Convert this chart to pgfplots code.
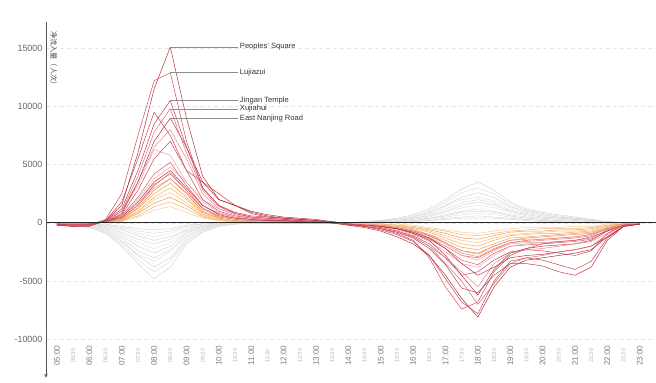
\documentclass[border=0pt]{standalone}
\usepackage{pgfplots}
\usepackage{pgfplotstable}
\pgfplotsset{compat=1.18}
\usetikzlibrary{arrows.meta}
\usepackage{fontspec}
\setmainfont{Liberation Sans}
\newfontfamily\cjk{Noto Sans CJK SC}

% Net passenger inflow per station, half-hourly from 05:00 to 23:00
% (one row per station; transposed below so that each station is a column)
\pgfplotstableread[header=has colnames]{
s 5 5.5 6 6.5 7 7.5 8 8.5 9 9.5 10 10.5 11 11.5 12 12.5 13 13.5 14 14.5 15 15.5 16 16.5 17 17.5 18 18.5 19 19.5 20 20.5 21 21.5 22 22.5 23
R1  -200 -300 -300 200 1500 6000 11500 15100 9000 4000 2000 1500  900 600 400 300 200 0 -200 -400 -700 -1200  -1800 -2800 -4500 -6500 -8100 -5500 -3800 -3200 -3000 -2800 -2600 -2300 -1200 -300 -100
R2  -200 -300 -200 300 2500 7500 12200 12900 7000 3000 1500 800  500 400 300 200 100 0 -200 -300 -500 -900  -1500 -3000 -5500 -7400 -6800 -4200 -2800 -2200 -1800 -1600 -1500 -1200 -700 -200 -100
R3  -100 -200 -200 200 1200 4500 8500 10500 6500 3000 1500 900  600 500 400 300 200 100 -100 -300 -500 -800  -1300 -2200 -3600 -5600 -6000 -4500 -3500 -3500 -3700 -4200 -4500 -3800 -1500 -300 -100
R4  -100 -200 -200 100 1000 4000 7800 9800 6000 2800 1400 800  500 400 300 200 100 0 -100 -200 -400 -700  -1200 -2000 -3500 -5000 -7000 -5200 -3500 -3000 -2800 -2500 -2300 -2000 -1000 -200 -100
R5  -100 -100 -100 100 800 3500 7000 9000 6500 3500 2000 1500  1000 700 500 400 300 100 -100 -200 -300 -500  -800 -1300 -2200 -3500 -4500 -3800 -3000 -2800 -2700 -2500 -2300 -2000 -1200 -300 -100
R6  -200 -200 -100 200 1000 3500 6500 8000 5500 2500 1200 700  400 300 300 200 100 0 -100 -300 -500 -800  -1200 -2000 -3000 -4200 -5500 -3500 -2600 -2300 -2200 -2000 -1800 -1600 -900 -200 -100
R7  -100 -200 -100 100 700 2800 5500 7000 4500 2000 1000 600  400 300 200 200 100 0 -100 -200 -400 -700  -1100 -1800 -3000 -4500 -4200 -3200 -2500 -2300 -2400 -2600 -2800 -2400 -900 -200 -100
R8  -100 -100 -100 200 1000 3200 6300 5800 3500 1800 900 500  300 300 200 200 100 0 -100 -200 -300 -600  -1000 -1600 -2500 -3500 -3800 -2800 -2000 -1800 -1700 -1600 -1500 -1300 -700 -200 -100
R9  -100 -200 -200 100 600 2200 4200 5200 3200 1500 800 500  300 200 200 100 100 0 -100 -200 -300 -500  -900 -1400 -2200 -3200 -3600 -2600 -2000 -1900 -1800 -1700 -1600 -1400 -600 -200 -100
R10 -100 -100 -100 100 500 2000 3800 4800 3500 2000 1200 800  500 300 200 200 100 0 -100 -200 -300 -500  -800 -1200 -2000 -2800 -3200 -2400 -1800 -1700 -1700 -1600 -1500 -1300 -600 -100 -100
R11 -100 -100 -100 100 500 1800 3500 4500 3000 1500 700 400  300 200 200 100 100 0 -100 -200 -300 -500  -900 -1500 -2800 -4500 -6200 -4000 -2600 -2200 -2000 -1900 -1800 -1500 -700 -200 -100
R12 -100 -100 -100 100 400 1600 3300 4200 2800 1300 600 400  200 200 100 100 100 0 -100 -200 -300 -400  -700 -1100 -1800 -2600 -2900 -2200 -1700 -1600 -1500 -1400 -1300 -1100 -500 -100 -100
R13 -100 -100 -100 100 400 1500 3000 3800 2600 1200 600 300  200 200 100 100 0 0 -100 -100 -200 -400  -600 -1000 -1700 -2400 -2700 -2000 -1500 -1400 -1400 -1300 -1200 -1000 -500 -100 -100
R14 -200 -300 -200 200 1800 5500 9500 7500 4500 3500 2500 1500  800 500 400 300 200 100 -100 -300 -600 -1000  -1600 -2800 -4800 -6800 -7800 -5000 -3300 -3000 -3200 -3600 -4000 -3300 -1300 -300 -100
}\redraw

\pgfplotstableread[header=has colnames]{
s 5 5.5 6 6.5 7 7.5 8 8.5 9 9.5 10 10.5 11 11.5 12 12.5 13 13.5 14 14.5 15 15.5 16 16.5 17 17.5 18 18.5 19 19.5 20 20.5 21 21.5 22 22.5 23
O1 -100 -100 -100 100 400 1500 3200 4300 2800 1200 500 300  200 100 100 100 0 0 -100 -200 -300 -500  -800 -1300 -2000 -2800 -3000 -2300 -1700 -1500 -1400 -1300 -1200 -1000 -500 -100 0
O2 -100 -100 -50 100 300 1300 2800 3800 2500 1000 400 200  100 100 100 0 0 0 -100 -100 -200 -400  -700 -1100 -1700 -2400 -2600 -2000 -1500 -1300 -1200 -1100 -1000 -900 -400 -100 0
O3 -100 -100 -50 50 300 1200 2500 3400 2200 900 400 200  100 100 100 0 0 0 -100 -100 -200 -300  -600 -1000 -1500 -2100 -2300 -1800 -1300 -1200 -1100 -1000 -900 -800 -400 -100 0
O4 -50 -100 -50 50 250 1000 2200 3000 2000 800 300 200  100 100 0 0 0 0 -50 -100 -200 -300  -500 -800 -1300 -1800 -2000 -1500 -1100 -1000 -900 -900 -800 -700 -300 -100 0
O5 -50 -50 -50 50 200 900 2000 2600 1700 700 300 100  100 100 0 0 0 0 -50 -100 -100 -300  -400 -700 -1100 -1500 -1700 -1300 -1000 -900 -800 -700 -700 -600 -300 -100 0
O6 -50 -50 -50 50 200 800 1700 2200 1500 600 200 100  100 0 0 0 0 0 -50 -100 -100 -200  -400 -600 -900 -1300 -1400 -1100 -800 -700 -700 -600 -600 -500 -200 -100 0
O7 -50 -50 0 50 150 600 1400 1800 1200 500 200 100  0 0 0 0 0 0 0 -50 -100 -200  -300 -500 -700 -1000 -1100 -900 -700 -600 -500 -500 -500 -400 -200 -100 0
O8 -50 -50 0 50 100 500 1100 1400 900 400 200 100  0 0 0 0 0 0 0 -50 -100 -100  -200 -400 -600 -800 -900 -700 -500 -400 -400 -400 -300 -300 -100 0 0
}\orangeraw

\pgfplotstableread[header=has colnames]{
s 5 5.5 6 6.5 7 7.5 8 8.5 9 9.5 10 10.5 11 11.5 12 12.5 13 13.5 14 14.5 15 15.5 16 16.5 17 17.5 18 18.5 19 19.5 20 20.5 21 21.5 22 22.5 23
G1 -100 -200 -400 -900 -2000 -3500 -4800 -3800 -1800 -800 -300 -100  0 0 0 0 0 0 0 100 200 400  700 1200 2000 2900 3500 2800 1800 1200 900 700 500 300 100 0 0
G2 -100 -200 -400 -800 -1800 -3200 -4200 -3300 -1600 -700 -300 -100  0 0 0 0 0 0 0 100 200 300  600 1000 1800 2600 3000 2500 1600 1100 800 600 400 300 100 0 0
G3 -100 -150 -300 -700 -1600 -2800 -3800 -3000 -1400 -600 -200 -100  0 0 0 0 0 0 0 100 200 300  500 900 1500 2200 2600 2200 1400 1000 700 500 400 200 100 0 0
G4 -100 -150 -300 -700 -1500 -2700 -3300 -2500 -1200 -500 -200 -100  0 0 0 0 0 0 0 100 100 300  500 800 1400 2000 2200 1900 1300 900 700 500 300 200 100 0 0
G5 -50 -100 -300 -600 -1300 -2400 -3000 -2300 -1100 -500 -200 0  0 0 0 0 0 0 0 50 100 200  400 700 1200 1700 2000 1700 1100 800 600 400 300 200 100 0 0
G6 -50 -100 -200 -500 -1100 -2000 -2600 -2000 -900 -400 -100 0  0 0 0 0 0 0 0 50 100 200  400 600 1000 1500 1800 1500 1000 700 500 400 300 200 100 0 0
G7 -50 -100 -200 -400 -900 -1700 -2200 -1700 -800 -300 -100 0  0 0 0 0 0 0 0 50 100 200  300 500 900 1300 1500 1300 900 600 400 300 200 100 0 0 0
G8 -50 -100 -200 -400 -800 -1400 -1800 -1400 -700 -300 -100 0  0 0 0 0 0 0 0 0 100 100  300 400 700 1000 1200 1000 700 500 400 300 200 100 0 0 0
G9 -50 -100 -100 -300 -600 -1100 -1500 -1200 -600 -200 -100 0  0 0 0 0 0 0 0 0 100 100  200 400 600 900 1000 900 600 400 300 200 100 100 0 0 0
G10 -50 -50 -100 -200 -500 -900 -1200 -900 -400 -200 -100 0  0 0 0 0 0 0 0 0 50 100  200 300 500 700 800 700 500 300 200 200 100 100 0 0 0
G11 -50 -50 -100 -200 -400 -700 -900 -700 -300 -100 0 0  0 0 0 0 0 0 0 0 50 100  100 200 400 500 600 500 400 300 200 100 100 0 0 0 0
G12 0 -50 -100 -100 -300 -500 -600 -500 -200 -100 0 0  0 0 0 0 0 0 0 0 0 50  100 200 300 400 400 400 300 200 100 100 0 0 0 0 0
}\greyraw

\pgfplotstabletranspose[colnames from=s, input colnames to=t]\reds{\redraw}
\pgfplotstabletranspose[colnames from=s, input colnames to=t]\oranges{\orangeraw}
\pgfplotstabletranspose[colnames from=s, input colnames to=t]\greys{\greyraw}

\definecolor{r1}{HTML}{A8323E}
\definecolor{r2}{HTML}{D9485A}
\definecolor{r3}{HTML}{C43C4C}
\definecolor{r4}{HTML}{E06A7A}
\definecolor{r5}{HTML}{B83040}
\definecolor{r6}{HTML}{E58894}
\definecolor{r7}{HTML}{CF4656}
\definecolor{r8}{HTML}{E9A0AA}
\definecolor{r9}{HTML}{D65C68}
\definecolor{r10}{HTML}{EBA6B0}
\definecolor{r11}{HTML}{C0303E}
\definecolor{r12}{HTML}{E07C88}
\definecolor{r13}{HTML}{E89098}
\definecolor{r14}{HTML}{D24050}
\definecolor{o1}{HTML}{E86A30}
\definecolor{o2}{HTML}{F08A3A}
\definecolor{o3}{HTML}{F5A04A}
\definecolor{o4}{HTML}{F0B060}
\definecolor{o5}{HTML}{F7C27A}
\definecolor{o6}{HTML}{EC9B50}
\definecolor{o7}{HTML}{F4B46A}
\definecolor{o8}{HTML}{FACC90}
\definecolor{g1}{HTML}{D4D4D4}
\definecolor{g2}{HTML}{DCDCDC}
\definecolor{g3}{HTML}{E4E4E4}
\definecolor{axisgrey}{HTML}{555555}

\begin{document}
\begin{tikzpicture}
\begin{axis}[
  scale only axis, width=610bp, height=356bp,
  xmin=4.66, xmax=23.49, ymin=-13300, ymax=17250,
  clip=false,
  axis x line*=bottom, axis y line*=left,
  x axis line style={draw=none}, y axis line style={draw=none},
  xtick={5,6,...,23},
  xticklabels={05:00,06:00,07:00,08:00,09:00,10:00,11:00,12:00,13:00,14:00,15:00,16:00,17:00,18:00,19:00,20:00,21:00,22:00,23:00},
  extra x ticks={5.5,6.5,...,22.5},
  extra x tick labels={05:30,06:30,07:30,08:30,09:30,10:30,11:30,12:30,13:30,14:30,15:30,16:30,17:30,18:30,19:30,20:30,21:30,22:30},
  extra x tick style={xticklabel style={font=\fontsize{5.5}{5.5}\selectfont, text=black!30}},
  xtick style={draw=none},
  xticklabel style={yshift=22bp, rotate=90, anchor=center, font=\fontsize{8.2}{8.2}\selectfont, text=black!50},
  ytick={-10000,-5000,0,5000,10000,15000},
  scaled y ticks=false,
  ytick style={draw=none},
  yticklabel style={font=\fontsize{9}{9}\selectfont, text=black!60},
  /pgf/number format/set thousands separator={},
  /pgf/number format/assume math mode=true,
  ymajorgrids, major grid style={dash pattern=on 4bp off 3bp, black!10, line width=0.6bp},
  every axis plot/.append style={line width=0.5bp, line join=round},
]
% residential stations (outflow in the morning, inflow in the evening)
\addplot[g1] table[x=t, y=G1]{\greys};
\addplot[g2] table[x=t, y=G2]{\greys};
\addplot[g1] table[x=t, y=G3]{\greys};
\addplot[g3] table[x=t, y=G4]{\greys};
\addplot[g2] table[x=t, y=G5]{\greys};
\addplot[g1] table[x=t, y=G6]{\greys};
\addplot[g3] table[x=t, y=G7]{\greys};
\addplot[g2] table[x=t, y=G8]{\greys};
\addplot[g1] table[x=t, y=G9]{\greys};
\addplot[g3] table[x=t, y=G10]{\greys};
\addplot[g2] table[x=t, y=G11]{\greys};
\addplot[g1] table[x=t, y=G12]{\greys};
% moderate employment stations
\addplot[o1] table[x=t, y=O1]{\oranges};
\addplot[o2] table[x=t, y=O2]{\oranges};
\addplot[o3] table[x=t, y=O3]{\oranges};
\addplot[o4] table[x=t, y=O4]{\oranges};
\addplot[o5] table[x=t, y=O5]{\oranges};
\addplot[o6] table[x=t, y=O6]{\oranges};
\addplot[o7] table[x=t, y=O7]{\oranges};
\addplot[o8] table[x=t, y=O8]{\oranges};
% major employment stations
\addplot[r13] table[x=t, y=R13]{\reds};
\addplot[r12] table[x=t, y=R12]{\reds};
\addplot[r10] table[x=t, y=R10]{\reds};
\addplot[r9]  table[x=t, y=R9]{\reds};
\addplot[r8]  table[x=t, y=R8]{\reds};
\addplot[r11] table[x=t, y=R11]{\reds};
\addplot[r7]  table[x=t, y=R7]{\reds};
\addplot[r6]  table[x=t, y=R6]{\reds};
\addplot[r14] table[x=t, y=R14]{\reds};
\addplot[r5]  table[x=t, y=R5]{\reds};
\addplot[r4]  table[x=t, y=R4]{\reds};
\addplot[r3]  table[x=t, y=R3]{\reds};
\addplot[r2]  table[x=t, y=R2]{\reds};
\addplot[r1]  table[x=t, y=R1]{\reds};

% zero line and vertical axis
\draw[black!85, line width=0.8bp] (axis cs:4.66,0) -- (axis cs:23.49,0);
\draw[axisgrey, line width=0.7bp, -{Stealth[length=4bp,width=3.5bp]}] (rel axis cs:0,1) -- (rel axis cs:0,0);
\node[rotate=-90, anchor=west, font=\cjk\fontsize{7.2}{7.2}\selectfont, text=black!70, xshift=9bp, yshift=8bp, inner sep=0pt] at (rel axis cs:0,1) {净流入量（人次）};

% station call-outs
\begin{scope}[every node/.style={anchor=west, font=\fontsize{7.6}{7.6}\selectfont, text=black!80, inner sep=1.5bp}]
\draw[black!45, line width=0.4bp] (axis cs:8.5,15100) -- (axis cs:10.6,15100) node {Peoples' Square};
\draw[black!45, line width=0.4bp] (axis cs:8.5,12900) -- (axis cs:10.6,12900) node {Lujiazui};
\draw[black!45, line width=0.4bp] (axis cs:8.5,10500) -- (axis cs:10.6,10500) node {Jingan Temple};
\draw[black!45, line width=0.4bp] (axis cs:8.5,9800) -- (axis cs:10.6,9800) node {Xujiahui};
\draw[black!45, line width=0.4bp] (axis cs:8.5,9000) -- (axis cs:10.6,9000) node {East Nanjing Road};
\end{scope}

% page frame
\path (rel axis cs:0,0) ++(-46bp,-5bp) rectangle ++(1bp,1bp);
\path (rel axis cs:1,1) ++(-1bp,22bp) rectangle ++(1bp,-1bp);
\end{axis}
\end{tikzpicture}
\end{document}
